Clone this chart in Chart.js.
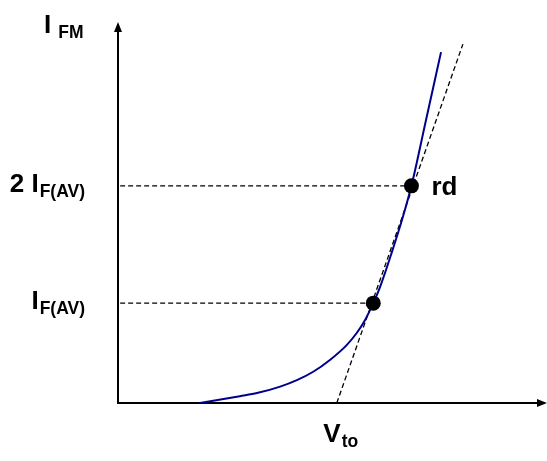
<!DOCTYPE html>
<html>
<head>
<meta charset="utf-8">
<script src="https://cdn.jsdelivr.net/npm/chart.js@4.4.0/dist/chart.umd.min.js"></script>
<style>
  html, body { margin: 0; padding: 0; background: #fff; overflow: hidden; }
  canvas { display: block; }
</style>
</head>
<body>
<canvas id="diodeChart" width="547" height="461"></canvas>
<script>
// forward characteristic, arbitrary units
const curveV = [19.1, 28.4, 32.4, 37.8, 41.7, 45.5, 49.4, 53.3, 55.6, 57.6, 59.5, 61.1, 63.9, 66.4, 68.4, 71.8, 75.3];
const curveI = [0, 1.8, 2.6, 4.3, 6.0, 8.2, 11.3, 15.2, 18.3, 21.8, 26.2, 30.5, 39.8, 48.8, 57.0, 74.3, 92.1];

// tangent line (slope = 1/rd), crosses the axis at Vto
const tangentV = [51.0, 80.4];
const tangentI = [0, 94.2];

// the two operating points
const opV = [59.5, 68.4];
const opI = [26.2, 57.0];

// labels on the current axis
const tickMain = ['I', '2 I'];
const tickSub = ['F(AV)', 'F(AV)'];

const toXY = (xs, ys) => xs.map((x, i) => ({ x: x, y: ys[i] }));

const MAIN_FONT = 'bold 26px "Liberation Sans", Arial, sans-serif';
const SUB_FONT = 'bold 17.5px "Liberation Sans", Arial, sans-serif';

// draws "main" + subscript, x is the left edge
function subLabel(ctx, main, sub, x, y, gap = 1) {
    ctx.font = MAIN_FONT;
    const w = ctx.measureText(main).width;
    ctx.fillText(main, x, y);
    ctx.font = SUB_FONT;
    ctx.fillText(sub, x + w + gap, y + 5);
}

function subWidth(ctx, main, sub, gap = 1) {
    ctx.font = MAIN_FONT;
    const w = ctx.measureText(main).width;
    ctx.font = SUB_FONT;
    return w + gap + ctx.measureText(sub).width;
}

const axesPlugin = {
    id: 'axesPlugin',
    beforeDatasetsDraw(chart) {
        const ctx = chart.ctx;
        const xs = chart.scales.x, ys = chart.scales.y;
        const x0 = xs.getPixelForValue(0), y0 = ys.getPixelForValue(0);
        const xEnd = xs.getPixelForValue(xs.max), yEnd = ys.getPixelForValue(ys.max);
        ctx.save();
        ctx.strokeStyle = '#000';
        ctx.fillStyle = '#000';
        ctx.lineWidth = 2;
        ctx.beginPath();
        ctx.moveTo(x0, y0 + 1);
        ctx.lineTo(x0, yEnd + 8);
        ctx.moveTo(x0 - 1, y0);
        ctx.lineTo(xEnd - 8, y0);
        ctx.stroke();
        // arrow heads
        ctx.beginPath();
        ctx.moveTo(x0, yEnd);
        ctx.lineTo(x0 - 4, yEnd + 10);
        ctx.lineTo(x0 + 4, yEnd + 10);
        ctx.closePath();
        ctx.fill();
        ctx.beginPath();
        ctx.moveTo(xEnd, y0);
        ctx.lineTo(xEnd - 10, y0 - 4);
        ctx.lineTo(xEnd - 10, y0 + 4);
        ctx.closePath();
        ctx.fill();
        ctx.restore();
    },
    afterDraw(chart) {
        const ctx = chart.ctx;
        const xs = chart.scales.x, ys = chart.scales.y;
        const x0 = xs.getPixelForValue(0), y0 = ys.getPixelForValue(0);
        ctx.save();
        ctx.fillStyle = '#000';
        ctx.textBaseline = 'alphabetic';
        ctx.textAlign = 'left';

        // axis titles
        subLabel(ctx, 'I', 'FM', x0 - 74, ys.getPixelForValue(ys.max) + 11, 7);
        const vx = xs.getPixelForValue(tangentV[0]);
        const vw = subWidth(ctx, 'V', 'to');
        subLabel(ctx, 'V', 'to', vx - vw / 2 + 4, y0 + 39);

        // current levels
        opI.forEach((v, i) => {
            const w = subWidth(ctx, tickMain[i], tickSub[i]);
            subLabel(ctx, tickMain[i], tickSub[i], x0 - 33 - w, ys.getPixelForValue(v) + 6);
        });

        // rd next to the upper point
        const last = opV.length - 1;
        ctx.font = MAIN_FONT;
        ctx.fillText('rd', xs.getPixelForValue(opV[last]) + 20, ys.getPixelForValue(opI[last]) + 9);
        ctx.restore();
    }
};

const guideSets = opV.map((v, i) => ({
    data: [{ x: 0.5, y: opI[i] }, { x: v, y: opI[i] }],
    borderColor: '#000',
    borderWidth: 1.3,
    borderDash: [5, 3],
    pointRadius: 0,
    order: 3
}));

new Chart(document.getElementById('diodeChart').getContext('2d'), {
    type: 'line',
    data: {
        datasets: [
            {
                data: toXY(opV, opI),
                showLine: false,
                pointRadius: 7.5,
                pointBackgroundColor: '#000',
                pointBorderWidth: 0,
                order: 0
            },
            {
                data: toXY(curveV, curveI),
                borderColor: '#00008c',
                borderWidth: 2,
                pointRadius: 0,
                cubicInterpolationMode: 'monotone',
                order: 1
            },
            {
                data: toXY(tangentV, tangentI),
                borderColor: '#000',
                borderWidth: 1.3,
                borderDash: [5, 3],
                pointRadius: 0,
                order: 2
            },
            ...guideSets
        ]
    },
    options: {
        responsive: false,
        animation: false,
        layout: { autoPadding: false, padding: { left: 118, right: 0, top: 22, bottom: 58 } },
        plugins: { legend: { display: false }, tooltip: { enabled: false } },
        scales: {
            x: { type: 'linear', min: 0, max: 100, display: false },
            y: { type: 'linear', min: 0, max: 100, display: false }
        }
    },
    plugins: [axesPlugin]
});
</script>
</body>
</html>
